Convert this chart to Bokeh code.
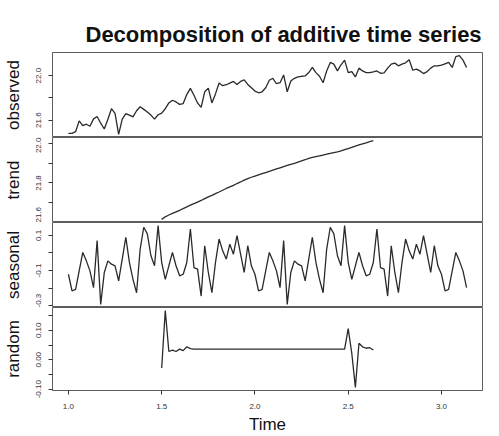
from bokeh.plotting import figure
from bokeh.layouts import column
from bokeh.models import Range1d, FixedTicker
from bokeh.embed import file_html
from bokeh.resources import INLINE

# ---- data ----
start = 1.0
frequency = 52

observed = [
    21.482, 21.482, 21.497, 21.594, 21.552, 21.564, 21.546, 21.612, 21.633, 21.573,
    21.521, 21.609, 21.703, 21.661, 21.473, 21.609, 21.658, 21.646, 21.630, 21.685,
    21.721, 21.697, 21.673, 21.646, 21.609, 21.649, 21.664, 21.703, 21.755, 21.779,
    21.764, 21.742, 21.749, 21.830, 21.885, 21.824, 21.755, 21.715, 21.855, 21.888,
    21.755, 21.836, 21.933, 21.909, 21.918, 21.933, 21.948, 21.921, 21.948, 21.961,
    21.921, 21.891, 21.861, 21.846, 21.855, 21.891, 21.958, 21.976, 21.927, 21.936,
    22.006, 21.855, 21.952, 21.976, 21.988, 21.994, 21.997, 22.027, 22.073, 22.027,
    21.994, 21.936, 22.042, 22.118, 22.103, 22.042, 22.097, 22.139, 22.027, 22.036,
    21.988, 22.067, 22.042, 22.027, 22.027, 22.033, 22.042, 22.021, 22.024, 22.067,
    22.103, 22.112, 22.088, 22.103, 22.115, 22.142, 22.048, 22.058, 22.042, 22.018,
    22.036, 22.067, 22.088, 22.088, 22.094, 22.106, 22.118, 22.073, 22.170, 22.179,
    22.139, 22.073,
]

trend_offset = 26  # first non-missing index of trend / random
trend = [
    21.615, 21.628, 21.637, 21.645, 21.653, 21.661, 21.670, 21.678, 21.687, 21.695,
    21.703, 21.711, 21.720, 21.729, 21.737, 21.746, 21.754, 21.763, 21.772, 21.780,
    21.788, 21.797, 21.805, 21.814, 21.822, 21.829, 21.835, 21.841, 21.847, 21.853,
    21.859, 21.865, 21.871, 21.877, 21.883, 21.889, 21.895, 21.900, 21.906, 21.912,
    21.918, 21.925, 21.930, 21.934, 21.938, 21.942, 21.946, 21.950, 21.954, 21.958,
    21.963, 21.969, 21.975, 21.981, 21.987, 21.993, 21.999, 22.004, 22.010, 22.015,
]

seasonal_figure = [
    -0.121, -0.216, -0.207, -0.102, 0.003, -0.045, -0.102, -0.197, 0.070, -0.292,
    -0.111, -0.045, -0.064, -0.073, -0.159, -0.035, 0.089, -0.054, -0.150, -0.226,
    0.022, 0.146, 0.108, -0.016, -0.073, 0.155, -0.054, -0.150, -0.073, 0.003,
    -0.073, -0.130, -0.121, -0.054, 0.136, -0.083, -0.092, -0.245, 0.041, -0.111,
    -0.226, -0.054, 0.079, 0.012, -0.035, 0.050, -0.007, 0.098, -0.007, -0.111,
    0.041, -0.073,
]

random = [
    -0.028, 0.167, 0.028, 0.033, 0.028, 0.036, 0.031, 0.044, 0.038, 0.036,
    0.036, 0.036, 0.036, 0.036, 0.036, 0.036, 0.036, 0.036, 0.036, 0.036,
    0.036, 0.036, 0.036, 0.036, 0.036, 0.036, 0.036, 0.036, 0.036, 0.036,
    0.036, 0.036, 0.036, 0.036, 0.036, 0.036, 0.036, 0.036, 0.036, 0.036,
    0.036, 0.036, 0.036, 0.036, 0.036, 0.036, 0.036, 0.036, 0.036, 0.036,
    0.036, 0.036, 0.106, 0.022, -0.094, 0.056, 0.044, 0.039, 0.041, 0.033,
]

x_ticks = [1.0, 1.5, 2.0, 2.5, 3.0]
x_tick_labels = ["1.0", "1.5", "2.0", "2.5", "3.0"]

obs_ticks = [21.6, 22.0]
obs_tick_labels = ["21.6", "22.0"]
obs_minor = [21.8]

trend_ticks = [21.6, 21.8, 22.0]
trend_tick_labels = ["21.6", "21.8", "22.0"]
trend_minor = [21.7, 21.9]

seas_ticks = [0.1, -0.1, -0.3]
seas_tick_labels = ["0.1", "-0.1", "-0.3"]
seas_minor = [0.0, -0.2]

rand_ticks = [0.10, 0.0, -0.10]
rand_tick_labels = ["0.10", "0.00", "-0.10"]
rand_minor = [0.15, 0.05, -0.05]

panel_names = ["observed", "trend", "seasonal", "random"]
title_text = "Decomposition of additive time series"
x_label = "Time"

# ---- derived time index ----
n = len(observed)
times = [start + i / frequency for i in range(n)]
seasonal = [seasonal_figure[i % frequency] for i in range(n)]
sub_times = times[trend_offset:trend_offset + len(trend)]

FONT = "Liberation Sans"
W = 483
LEFT = 47
RIGHT = 1
PANEL_H = 85
TOP = 52
BOTTOM = 44
LINE = "#2a2a2a"
BOX = "#333333"

pad_x = 0.04 * (times[-1] - times[0])
xr = Range1d(times[0] - pad_x, times[-1] + pad_x)


def yrange(vals):
    lo, hi = min(vals), max(vals)
    pad = 0.04 * (hi - lo)
    return Range1d(lo - pad, hi + pad)


def panel(name, xs, ys, ticks, labels, minor, top=0, bottom=0, show_x=False):
    p = figure(width=W, height=PANEL_H + top + bottom, output_backend="svg",
               toolbar_location=None, x_range=xr, y_range=yrange(ys),
               min_border_left=LEFT, min_border_right=RIGHT,
               min_border_top=top, min_border_bottom=bottom,
               x_axis_location="below" if show_x else None)
    p.line(xs, ys, line_color=LINE, line_width=1.3)
    p.grid.visible = False
    p.outline_line_color = BOX
    p.outline_line_width = 0.8
    p.background_fill_color = "white"
    p.border_fill_color = "white"

    ax = p.yaxis[0]
    ax.ticker = FixedTicker(ticks=ticks, minor_ticks=minor)
    ax.major_label_overrides = {t: l for t, l in zip(ticks, labels)}
    ax.major_label_orientation = "vertical"
    ax.major_label_text_font = FONT
    ax.major_label_text_font_size = "8px"
    ax.major_label_text_color = "#333333"
    ax.major_label_standoff = 7
    ax.major_tick_out = 4
    ax.major_tick_in = 0
    ax.minor_tick_out = 4
    ax.minor_tick_in = 0
    ax.major_tick_line_color = BOX
    ax.minor_tick_line_color = BOX
    ax.axis_line_color = None
    ax.axis_label = name
    ax.axis_label_text_font = FONT
    ax.axis_label_text_font_style = "normal"
    ax.axis_label_text_font_size = "17px"
    ax.axis_label_text_color = "#111111"
    ax.axis_label_standoff = 11

    if show_x:
        xa = p.xaxis[0]
        xa.ticker = FixedTicker(ticks=x_ticks, minor_ticks=[])
        xa.major_label_overrides = {t: l for t, l in zip(x_ticks, x_tick_labels)}
        xa.major_label_text_font = FONT
        xa.major_label_text_font_size = "8px"
        xa.major_label_text_color = "#333333"
        xa.major_label_standoff = 9
        xa.major_tick_out = 4
        xa.major_tick_in = 0
        xa.major_tick_line_color = BOX
        xa.axis_line_color = None
        xa.axis_label = x_label
        xa.axis_label_text_font = FONT
        xa.axis_label_text_font_style = "normal"
        xa.axis_label_text_font_size = "17px"
        xa.axis_label_text_color = "#111111"
        xa.axis_label_standoff = 3
    return p


p1 = panel(panel_names[0], times, observed, obs_ticks, obs_tick_labels, obs_minor, top=TOP)
p1.title.text = title_text
p1.title.text_font = FONT
p1.title.text_font_size = "22px"
p1.title.text_font_style = "bold"
p1.title.text_color = "#111111"
p1.title.align = "left"
p1.title.offset = 33
p1.title.standoff = 12
p2 = panel(panel_names[1], sub_times, trend, trend_ticks, trend_tick_labels, trend_minor)
p3 = panel(panel_names[2], times, seasonal, seas_ticks, seas_tick_labels, seas_minor)
p4 = panel(panel_names[3], sub_times, random, rand_ticks, rand_tick_labels, rand_minor,
           bottom=BOTTOM, show_x=True)

layout = column(p1, p2, p3, p4, spacing=0)
open("out.html", "w").write(file_html(layout, INLINE))
